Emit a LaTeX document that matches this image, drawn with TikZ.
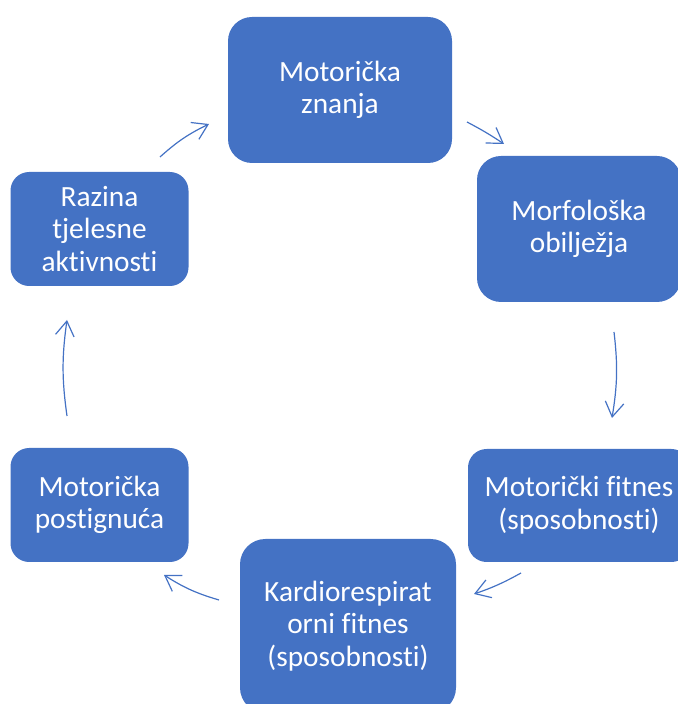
\documentclass[tikz,border=0pt]{standalone}
\usepackage{fontspec}
\setmainfont{Carlito}[Ligatures=NoCommon]
\usetikzlibrary{arrows.meta}
\definecolor{boxblue}{RGB}{68,114,196}
\begin{document}
\begin{tikzpicture}[x=0.75pt,y=0.75pt,
 box/.style={rectangle, fill=boxblue, text=white, align=center, inner sep=0pt,
   font=\fontsize{22}{24.5}\selectfont},
 link/.style={draw=boxblue, line width=0.9pt, -{Straight Barb[length=11pt,width=14pt]}}]
\useasboundingbox (0,0) rectangle (678,704);
\clip (0,0) rectangle (678,704);
\node[box, minimum width=168pt, minimum height=109.5pt, rounded corners=18pt] (b1) at (340,614) {Motorička\\znanja};
\node[box, minimum width=153pt, minimum height=109.5pt, rounded corners=18pt] (b2) at (579,475) {Morfološka\\obilježja};
\node[box, minimum width=166.5pt, minimum height=84.75pt, rounded corners=14pt] (b3) at (579,198.5) {Motorički fitnes\\(sposobnosti)};
\node[box, minimum width=162pt, minimum height=130.5pt, rounded corners=19pt] (b4) at (348,78) {Kardiorespirat\\orni fitnes\\(sposobnosti)};
\node[box, minimum width=133.5pt, minimum height=85.5pt, rounded corners=14pt] (b5) at (99.5,199) {Motorička\\postignuća};
\node[box, minimum width=133.5pt, minimum height=85.5pt, rounded corners=14pt] (b6) at (99.5,475) {Razina\\tjelesne\\aktivnosti};
\coordinate (a1s) at (160,547); \coordinate (a1e) at (209,580);
\coordinate (a2s) at (467,582); \coordinate (a2e) at (504,560);
\coordinate (a3s) at (614,372); \coordinate (a3e) at (612,286);
\coordinate (a4s) at (521,131); \coordinate (a4e) at (474,110);
\coordinate (a5s) at (219,104); \coordinate (a5e) at (164,129);
\coordinate (a6s) at (67,288);  \coordinate (a6e) at (67,384);
\draw[link] (a1s) to[bend left=8] (a1e);
\draw[link] (a2s) to[bend left=3] (a2e);
\draw[link] (a3s) to[bend left=8] (a3e);
\draw[link] (a4s) to[bend left=5] (a4e);
\draw[link] (a5s) to[bend left=8] (a5e);
\draw[link] (a6s) to[bend left=8] (a6e);
\end{tikzpicture}
\end{document}
